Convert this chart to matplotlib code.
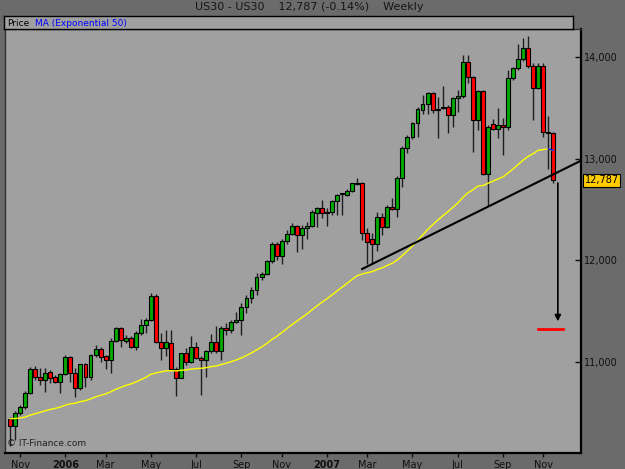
import matplotlib
matplotlib.use("Agg")
import matplotlib.pyplot as plt
import matplotlib.transforms as mtransforms

# weekly US30 candles, Oct 2005 - Nov 2007
opens = [10440, 10370, 10500, 10560, 10695, 10930, 10855, 10825, 10905, 10855,
         10805, 10885, 11050, 10895, 10745, 10980, 10855, 11070, 11130, 11055,
         11020, 11210, 11335, 11210, 11235, 11145, 11285, 11365, 11415, 11650,
         11200, 11135, 11190, 10930, 10845, 11085, 11000, 11150, 11040, 11015,
         11105, 11200, 11105, 11335, 11310, 11390, 11415, 11540, 11630, 11710,
         11840, 11865, 11990, 12160, 12045, 12190, 12255, 12335, 12250, 12315,
         12340, 12470, 12510, 12470, 12480, 12585, 12650, 12640, 12685, 12760,
         12760, 12265, 12205, 12160, 12430, 12330, 12520, 12505, 12810, 13105,
         13210, 13350, 13480, 13540, 13650, 13485, 13495, 13505, 13430, 13600,
         13620, 13955, 13805, 13380, 13665, 12850, 13340, 13290, 13330, 13315,
         13790, 13890, 13980, 14085, 13910, 13690, 13910, 13265, 13250]
highs = [10460, 10515, 10580, 10710, 10955, 10960, 10940, 10940, 10925, 10875,
         10895, 11070, 11055, 10945, 10985, 10990, 11080, 11170, 11150, 11070,
         11240, 11345, 11345, 11265, 11255, 11300, 11420, 11435, 11680, 11670,
         11285, 11315, 11315, 10950, 11090, 11135, 11255, 11200, 11055, 11120,
         11275, 11355, 11350, 11380, 11415, 11495, 11580, 11660, 11740, 11875,
         11890, 12005, 12185, 12185, 12210, 12300, 12370, 12350, 12345, 12380,
         12495, 12520, 12595, 12510, 12595, 12650, 12665, 12700, 12765, 12805,
         12775, 12315, 12265, 12480, 12465, 12545, 12610, 12825, 13120, 13235,
         13365, 13505, 13625, 13660, 13660, 13610, 13710, 13530, 13610, 13675,
         14020, 14020, 13810, 13675, 13675, 13330, 13390, 13495, 13395, 13870,
         13905, 14130, 14185, 14205, 13940, 13940, 13940, 13415, 13265]
lows = [10170, 10235, 10480, 10540, 10685, 10825, 10775, 10705, 10795, 10795,
        10700, 10875, 10805, 10660, 10725, 10755, 10825, 11050, 11000, 10935,
        10895, 11200, 11150, 11190, 11140, 11120, 11265, 11285, 11400, 11190,
        11020, 11055, 10925, 10665, 10840, 10970, 10990, 11030, 10680, 10855,
        11085, 11085, 11020, 11265, 11290, 11380, 11265, 11480, 11580, 11660,
        11810, 11855, 11970, 12005, 11965, 12165, 12250, 12085, 12110, 12210,
        12325, 12330, 12415, 12340, 12445, 12445, 12445, 12635, 12675, 12740,
        12200, 11960, 11960, 12090, 12250, 12315, 12490, 12430, 12725, 13055,
        13190, 13210, 13440, 13440, 13445, 13200, 13485, 13255, 13315, 13460,
        13595, 13740, 13070, 13280, 12840, 12530, 13285, 13200, 13035, 13280,
        13775, 13870, 13965, 13890, 13380, 13685, 13215, 12900, 12760]
closes = [10370, 10500, 10560, 10695, 10930, 10855, 10825, 10895, 10845, 10805,
          10885, 11050, 10895, 10745, 10980, 10855, 11070, 11130, 11050, 11015,
          11210, 11335, 11220, 11240, 11145, 11285, 11365, 11415, 11650, 11200,
          11135, 11200, 10930, 10845, 11085, 11000, 11150, 11040, 11015, 11105,
          11200, 11105, 11335, 11310, 11390, 11415, 11540, 11630, 11710, 11840,
          11865, 11990, 12160, 12045, 12190, 12255, 12340, 12250, 12315, 12340,
          12480, 12510, 12470, 12480, 12585, 12645, 12660, 12685, 12760, 12755,
          12265, 12185, 12160, 12430, 12330, 12520, 12505, 12810, 13105, 13210,
          13350, 13485, 13540, 13650, 13480, 13480, 13505, 13430, 13595, 13620,
          13955, 13805, 13380, 13665, 12850, 13315, 13290, 13330, 13315, 13790,
          13890, 13980, 14085, 13910, 13690, 13910, 13265, 13250, 12787]

# EMA(50) seed as it shows at the left edge of the chart
ema_start = 10445
ema_span = 50

tick_pos = [2, 11, 19, 28, 37, 46, 54, 63, 71, 80, 89, 98, 106]
tick_labels = ["Nov", "2006", "Mar", "May", "Jul", "Sep", "Nov",
               "2007", "Mar", "May", "Jul", "Sep", "Nov"]
price_ticks = [11000, 12000, 13000, 14000]

title = "US30 - US30    12,787 (-0.14%)    Weekly"
last_price = 12787

# hand-drawn annotations
trend_x = [70, 113.5]
trend_y = [11915, 12980]
arrow_x = 108.9
arrow_from = 12760
arrow_to = 11400
target_x = [105, 110]
target_y = 11325

outer_bg = "#6b6b6b"
plot_bg = "#a0a0a0"
up_col = "#00a800"
down_col = "#ff0000"

# exponential moving average of the closes
alpha = 2.0 / (ema_span + 1)
ema = []
prev = ema_start
for c in closes:
    prev = prev + alpha * (c - prev)
    ema.append(prev)

fig = plt.figure(figsize=(6.25, 4.69), dpi=100, facecolor=outer_bg)
ax = fig.add_axes([5 / 625, 16 / 469, 576 / 625, 424 / 469])
ax.set_facecolor(plot_bg)

n = len(closes)
xs = list(range(n))

# wicks then bodies
ax.vlines(xs, lows, highs, color="#1e1e1e", linewidth=1, zorder=2)
bottoms = [min(o, c) for o, c in zip(opens, closes)]
heights = [max(abs(c - o), 6) for o, c in zip(opens, closes)]
colors = [up_col if c >= o else down_col for o, c in zip(opens, closes)]
ax.bar(xs, heights, bottom=bottoms, width=0.78, color=colors,
       edgecolor="black", linewidth=0.8, zorder=3)

ax.plot(xs, ema, color="#ffff00", linewidth=1, zorder=4)
ax.plot(xs[-2:], ema[-2:], color="#0000ff", linewidth=1, zorder=5)

# trend line, target arrow and level
ax.plot(trend_x, trend_y, color="black", linewidth=1.5, zorder=6)
ax.annotate("", xy=(arrow_x, arrow_to), xytext=(arrow_x, arrow_from),
            arrowprops=dict(arrowstyle="-|>", color="black", lw=1.2,
                            mutation_scale=9, shrinkA=0, shrinkB=0), zorder=6)
ax.plot(target_x, [target_y, target_y], color="#ff0000", linewidth=2, zorder=6)

ax.set_xlim(-1, 113.5)
ax.set_ylim(10105, 14275)

ax.set_xticks(tick_pos)
ax.set_xticklabels(tick_labels)
for lab in ax.get_xticklabels():
    if lab.get_text().isdigit():
        lab.set_fontweight("bold")
ax.tick_params(axis="x", direction="out", length=3, width=1, pad=2,
               labelsize=7, colors="#101010")

ax.yaxis.tick_right()
ax.set_yticks(price_ticks)
ax.set_yticklabels([f"{p:,}" for p in price_ticks])
ax.tick_params(axis="y", direction="in", length=4, width=1, pad=2,
               labelsize=7, colors="#101010")

for side in ["left", "top"]:
    ax.spines[side].set_color("#303030")
    ax.spines[side].set_linewidth(1)
for side in ["right", "bottom"]:
    ax.spines[side].set_color("black")
    ax.spines[side].set_linewidth(1.6)

# current price tag on the axis
trans = mtransforms.blended_transform_factory(ax.transAxes, ax.transData)
ax.text(1.006, last_price, f"{last_price:,}", transform=trans, fontsize=7,
        va="center", ha="left", color="black", zorder=10, clip_on=False,
        bbox=dict(boxstyle="square,pad=0.15", facecolor="#ffcc00",
                  edgecolor="black", linewidth=0.8))

ax.text(0.003, 0.012, "\u00a9 IT-Finance.com", transform=ax.transAxes,
        fontsize=6.5, color="#202020", ha="left", va="bottom")

# legend strip above the plot
strip = fig.add_axes([4 / 625, 440 / 469, 569 / 625, 13 / 469])
strip.set_facecolor(plot_bg)
strip.set_xticks([])
strip.set_yticks([])
for s in strip.spines.values():
    s.set_color("black")
    s.set_linewidth(1)
strip.text(0.006, 0.45, "Price", fontsize=6.5, color="black",
           ha="left", va="center", transform=strip.transAxes)
strip.text(0.055, 0.45, "MA (Exponential 50)", fontsize=6.5, color="#0000ff",
           ha="left", va="center", transform=strip.transAxes)

fig.text(0.495, 1 - 7.5 / 469, title, fontsize=8, color="#151515",
         ha="center", va="center")

fig.savefig("out.png", dpi=100, facecolor=outer_bg)
